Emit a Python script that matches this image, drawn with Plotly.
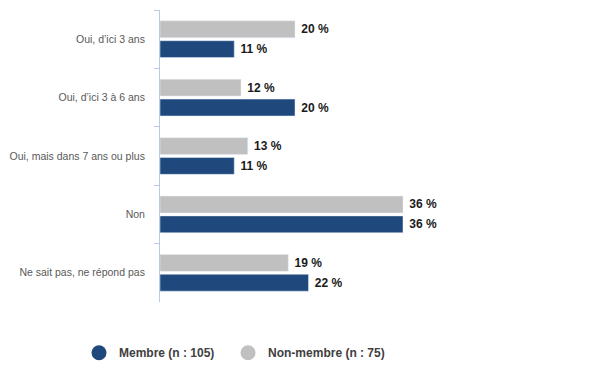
import plotly.graph_objects as go

categories = ["Oui, d’ici 3 ans", "Oui, d’ici 3 à 6 ans", "Oui, mais dans 7 ans ou plus", "Non", "Ne sait pas, ne répond pas"]
membre = [11, 20, 11, 36, 22]
non_membre = [20, 12, 13, 36, 19]
name_membre = "Membre (n : 105)"
name_non = "Non-membre (n : 75)"

navy = "#1f497d"
gray = "#c0c0c0"

fig = go.Figure()
fig.add_trace(go.Bar(
    y=categories, x=non_membre, orientation="h", name=name_non,
    marker=dict(color=gray), showlegend=False,
    text=[f"\u00a0<b>{v} %</b>" for v in non_membre], textposition="outside",
    textfont=dict(family="Arial", size=12, color="#1a1a1a"), cliponaxis=False,
))
fig.add_trace(go.Bar(
    y=categories, x=membre, orientation="h", name=name_membre,
    marker=dict(color=navy), showlegend=False,
    text=[f"\u00a0<b>{v} %</b>" for v in membre], textposition="outside",
    textfont=dict(family="Arial", size=12, color="#1a1a1a"), cliponaxis=False,
))
# legend entries with circular markers
fig.add_trace(go.Scatter(x=[None], y=[None], mode="markers", name=name_membre, legend="legend",
                         marker=dict(color=navy, size=15, symbol="circle")))
fig.add_trace(go.Scatter(x=[None], y=[None], mode="markers", name=name_non, legend="legend2",
                         marker=dict(color=gray, size=15, symbol="circle")))

legend_font = dict(family="Arial", size=12, color="#404040", weight="bold")
fig.update_layout(
    width=600, height=380,
    margin=dict(l=152, r=43, t=2, b=86, autoexpand=False),
    paper_bgcolor="white", plot_bgcolor="white",
    barmode="group", bargap=0.32, bargroupgap=0.15,
    font=dict(family="Arial", size=11, color="#595959"),
    xaxis=dict(range=[0, 60], visible=False, fixedrange=True, automargin=False),
    yaxis=dict(
        type="category", autorange="reversed", showline=True, linecolor="#b8cce4", linewidth=1,
        ticks="outside", ticklen=5, tickcolor="#b8cce4", tickson="boundaries",
        showgrid=False, zeroline=False, ticklabelstandoff=12, automargin=False,
        tickfont=dict(family="Arial", size=10.5, color="#595959"),
    ),
    legend=dict(orientation="h", x=-0.20, xanchor="left", y=-0.124, yanchor="top",
                font=legend_font, itemwidth=30,
                itemclick=False, itemdoubleclick=False),
    legend2=dict(orientation="h", x=0.168, xanchor="left", y=-0.124, yanchor="top",
                 font=legend_font, itemwidth=30,
                 itemclick=False, itemdoubleclick=False),
    showlegend=True,
)

fig.write_html("out.html")
